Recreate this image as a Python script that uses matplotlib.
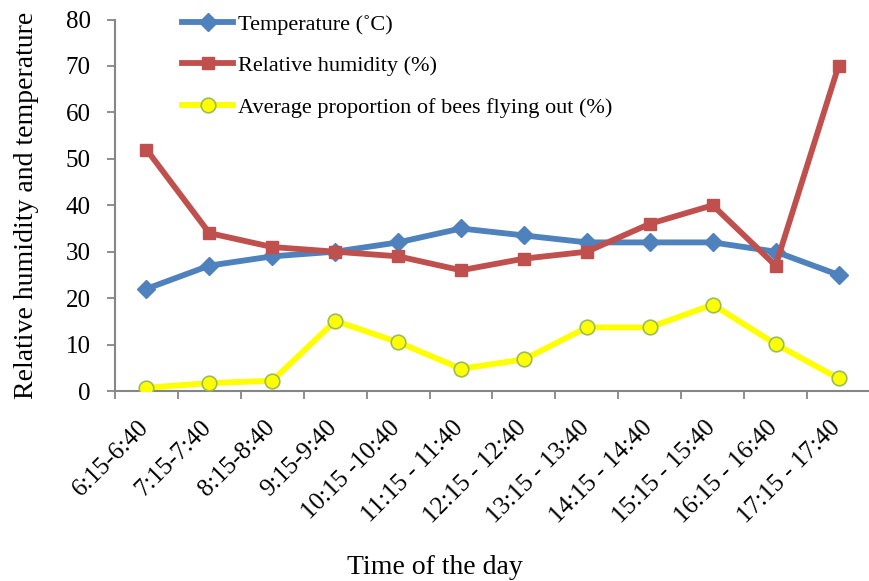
import numpy as np
import matplotlib.pyplot as plt

# 各时段的观测数据
time_slots = ['6:15-6:40', '7:15-7:40', '8:15-8:40', '9:15-9:40', '10:15 -10:40',
              '11:15 - 11:40', '12:15 - 12:40', '13:15 - 13:40', '14:15 - 14:40',
              '15:15 - 15:40', '16:15 - 16:40', '17:15 - 17:40']
temperature = [22, 27, 29, 30, 32, 35, 33.5, 32, 32, 32, 30, 25]
humidity = [52, 34, 31, 30, 29, 26, 28.5, 30, 36, 40, 27, 70]
bees_out = [0.7, 1.7, 2.2, 15.1, 10.5, 4.8, 6.8, 13.7, 13.7, 18.6, 10.1, 2.7]

plt.rcParams['font.family'] = ['Liberation Serif', 'DejaVu Serif']

fig = plt.figure(figsize=(8.7, 5.81), dpi=100)
# 绘图区位置（像素换算）
left, right, bottom, top = 115 / 870, 1.0, 1 - 391 / 581, 1 - 19.5 / 581
ax = fig.add_axes([left, bottom, right - left, top - bottom])

x = np.arange(len(time_slots))
ax.plot(x, temperature, color='#4F81BD', lw=4.2, marker='D', ms=9,
        label='Temperature (˚C)', zorder=3)
ax.plot(x, humidity, color='#C0504D', lw=4.2, marker='s', ms=9,
        label='Relative humidity (%)', zorder=3)
ax.plot(x, bees_out, color='#FFFF00', lw=4.2, marker='o', ms=10.5,
        markerfacecolor='#FFFF00', markeredgecolor='#9BBB59', markeredgewidth=1.2,
        label='Average proportion of bees flying out (%)', zorder=3)

# 横轴：刻度线位于类别之间，标签用无长度的次刻度
step_px = 63.45
span = (870 - 115) / step_px
ax.set_xlim(-0.5, -0.5 + span)
ax.set_ylim(0, 80)
ax.set_yticks(np.arange(0, 81, 10))
ax.set_xticks(np.arange(-0.5, len(time_slots), 1.0))
ax.set_xticklabels([])
# 标签整体略向左移
ax.set_xticks(x - 9 / step_px, minor=True)
ax.set_xticklabels(time_slots, minor=True, rotation=45, ha='right', va='top',
                   rotation_mode='anchor', fontsize=18)
ax.tick_params(axis='x', which='minor', length=0, pad=18.5)
ax.tick_params(axis='x', which='major', length=6, width=1.3, color='#868686', direction='out')
ax.tick_params(axis='y', length=6, width=1.3, color='#868686', labelsize=18, pad=11.5)

for side in ['top', 'right']:
    ax.spines[side].set_visible(False)
for side in ['left', 'bottom']:
    ax.spines[side].set_color('#868686')
    ax.spines[side].set_linewidth(1.5)

fig.text(435 / 870, 1 - 567 / 581, 'Time of the day', ha='center', va='center', fontsize=20)
fig.text(27 / 870, 1 - 205 / 581, 'Relative humidity and temperature', ha='center', va='center',
         rotation=90, fontsize=20)

ax.legend(loc='upper left', bbox_to_anchor=(182 / 870, 1 - 14 / 581), bbox_transform=fig.transFigure,
          frameon=False, fontsize=16, handlelength=2.3, handletextpad=0.2,
          labelspacing=0.95, borderaxespad=0, borderpad=0)

fig.savefig('out.png', dpi=100)
